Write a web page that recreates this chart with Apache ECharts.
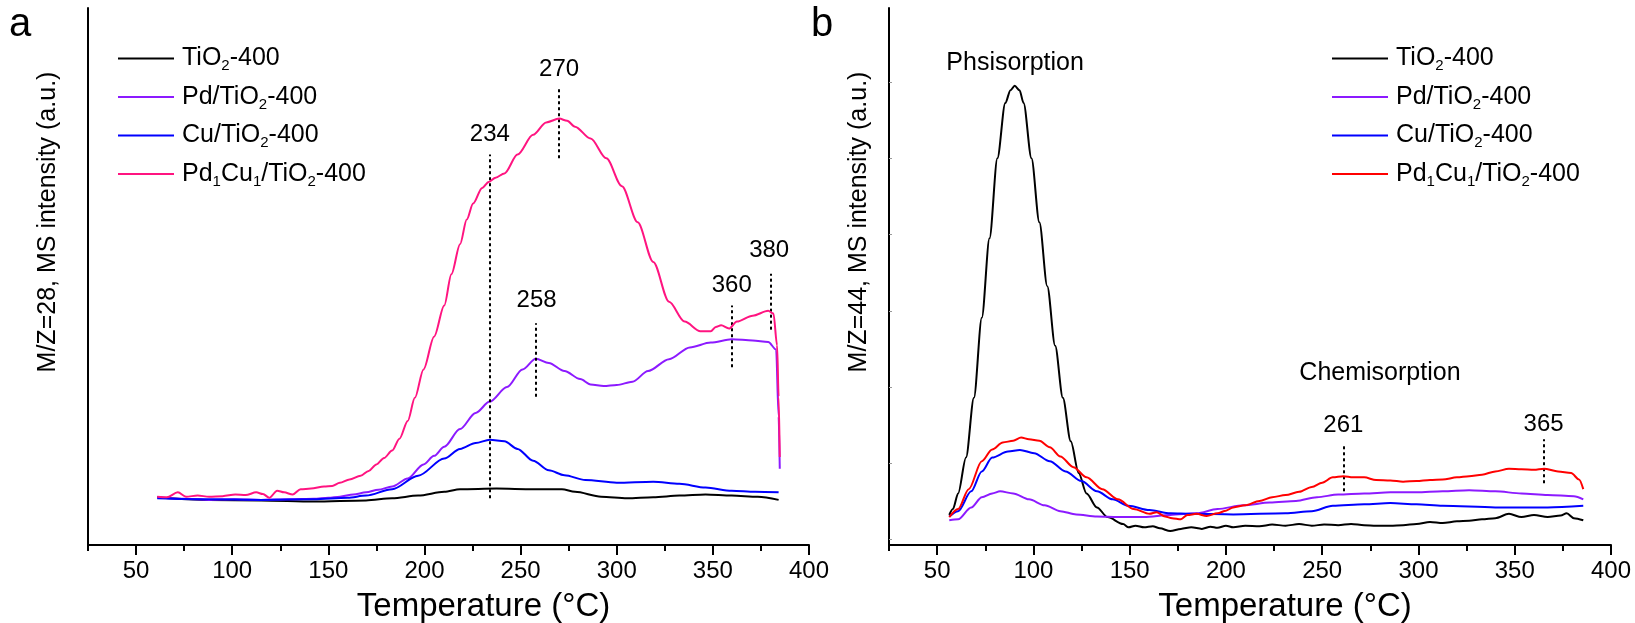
<!DOCTYPE html>
<html>
<head>
<meta charset="utf-8">
<script src="https://cdn.jsdelivr.net/npm/echarts@6/dist/echarts.min.js"></script>
<style>html,body{margin:0;padding:0;background:#fff;}#c{width:1635px;height:623px;}</style>
</head>
<body>
<div id="c"></div>
<script>
// ---------- data ----------
const seriesNames = ['TiO_2-400', 'Pd/TiO_2-400', 'Cu/TiO_2-400', 'Pd_1Cu_1/TiO_2-400'];
const majorTicks = [50, 100, 150, 200, 250, 300, 350, 400];
const minorTicks = [25, 75, 125, 175, 225, 275, 325, 375];
const rightYTicks = [1.0, 15.2, 29.4, 43.6, 57.8, 72.0, 86.2];

// Panel a (M/Z=28)
const aTiO2X = [61,88,115,142.4,169.6,183.2,196.7,210.3,218.5,237.5,256.5,271.5,278.3,291.9,305.4,319,332.6,346.2,359.8,373.4,384.2];
const aTiO2Y = [8.9,8.4,8.3,8.1,8.3,8.7,9.2,9.9,10.4,10.5,10.4,10.4,9.9,9.0,8.7,8.9,9.2,9.4,9.2,9.0,8.4];
const aPdX = [61,75,88,101,115,130,142.4,150,156,163,169.6,176,183.2,191.3,199.5,205,210.3,218.5,226.6,234,242.9,251,257.9,264.7,272.8,281,286.4,293.2,300,308.2,316.3,327.2,338,348.9,359.8,370.7,378.8,382.9,384.2,384.8];
const aPdY = [8.9,8.6,8.4,8.5,8.4,8.5,8.6,8.8,9.0,9.4,9.8,10.3,10.9,12.4,15.0,16.6,18.3,21.6,24.6,26.7,29.4,32.7,34.7,33.9,32.4,30.9,29.9,29.6,29.8,30.4,32.4,34.6,36.8,37.7,38.3,38.1,37.8,36.4,23.9,14.2];
const aCuX = [61,88,115,142.4,160,169.6,183.2,196.7,210.3,218.5,226.6,234,241.6,248.4,256.5,264.7,272.8,283.7,300,319,332.6,346.2,359.8,372,384.2];
const aCuY = [8.7,8.5,8.4,8.5,8.8,9.2,10.4,12.9,16.1,17.9,19.0,19.6,19.3,17.9,15.7,13.9,13.0,12.1,11.6,11.8,11.4,10.7,10.1,9.9,9.8];
const aPdCuX = [61,66,71.7,76,82,88,95,101.6,107,112.5,116,119.3,123.4,127,131.5,135.6,141,147.8,152,156,161,166.8,171,175,179,183.2,187,191.3,195,199.5,205,210.3,214,218.5,222,225.3,230,233.4,237,241.6,248.4,256.5,263.3,270.1,274.2,278.3,286.4,294.6,302.7,310.9,319,327.2,335.3,343.5,348.9,351.5,354.3,358.4,362.5,370.7,378.8,381.5,383.4,384.2,384.8];
const aPdCuY = [9.0,8.9,9.8,9.0,9.2,9.0,9.1,9.4,9.3,9.8,9.5,8.8,10.1,9.8,9.4,10.4,10.5,10.9,11.0,11.6,12.2,12.9,13.8,15.0,16.2,17.6,19.8,23.1,27.4,32.7,38.8,44.6,50.4,56.0,60.6,63.6,66.5,67.6,68.4,69.2,72.7,76.4,78.7,79.4,79.0,77.9,75.7,72.0,66.8,60.1,52.7,45.3,41.6,39.8,39.8,40.6,40.9,40.3,41.6,42.7,43.6,43.1,37.2,27.6,16.4];

// Panel a annotations
const aPeakX = [234, 270, 258, 360, 380];
const aPeakLow = [8.7, 72.0, 27.6, 33.1, 40.1];
const aPeakHigh = [72.7, 85.2, 41.3, 44.6, 50.5];
const aLabelX = [234, 270, 258.3, 359.8, 379.3];
const aLabelY = [76.5, 88.6, 45.5, 48.4, 54.8];

// Panel b (M/Z=44)
const bTiO2X = [56.3,58.2,60.9,65,69.1,73.2,77.2,81.3,85.4,88.1,90.3,92.8,94.9,99,103.1,107.2,111.3,115.3,119.4,123.5,127.6,133,138.5,146.6,149.4,153,157.5,162,165.7,171.1,176.6,182,187.5,192,195.6,200,203.8,210,217.4,224,231,238,244.6,251,258.3,265,271.8,278,285.4,292,299,306,312.6,320,326.3,333,339.9,347,353.5,360,367.1,373.9,377,380.7,385.6];
const bTiO2Y = [5.6,6.7,9.6,16.3,27.4,42.3,57.1,72.0,82.3,84.7,85.5,84.7,82.3,72.0,60.1,48.2,37.1,27.4,19.3,13.4,9.6,7.0,5.2,3.9,3.3,3.6,3.3,3.5,3.1,2.6,3.0,3.3,3.0,3.4,3.2,3.6,3.3,3.6,3.5,3.8,3.6,3.9,3.6,3.8,3.7,3.9,3.7,3.6,3.6,3.7,3.9,4.3,4.1,4.4,4.5,4.8,5.0,5.8,5.2,5.6,5.2,5.5,5.9,5.0,4.6];
const bPdX = [56.3,60.9,67.7,73.2,78.6,82.7,89.5,97.7,105.8,114,122.2,133,143.9,157.5,171.1,184.8,195.6,209.2,222.8,236.4,247.3,258.3,271.8,285.4,299,312.6,326.3,339.9,353.5,367.1,380.7,385.6];
const bPdY = [4.6,4.8,7.0,8.9,9.6,10.0,9.6,8.5,7.4,6.3,5.7,5.3,5.2,5.2,5.6,5.9,6.7,7.4,7.9,8.2,8.9,9.4,9.6,9.8,9.8,10.0,10.2,10.0,9.6,9.3,9.1,8.5];
const bCuX = [56.3,60.9,67.7,73.2,78.6,86.8,93,100.4,108.5,116.7,124.9,133,141.2,149.4,160.3,171.1,182,203.8,231,244.6,255.5,271.8,285.4,299,312.6,339.9,367.1,385.6];
const bCuY = [5.3,6.3,10.0,13.7,16.3,17.4,17.7,17.1,15.6,13.7,11.9,10.0,8.5,7.3,6.5,5.9,5.8,5.7,5.9,6.3,7.3,7.6,7.8,7.6,7.3,7.0,7.0,7.3];
const bPdCuX = [56.3,60.9,66.4,73.2,78.6,84.1,89.5,93.6,97.7,103.1,108.5,114,120.8,127.6,135.8,143.9,152.1,160.3,164,168.4,172,176.6,180,184.8,190,195.6,200,203.8,210,217.4,224,231,238,244.6,250,255.5,261,266,271.8,278,285.4,292,299,306,312.6,320,326.3,333,339.9,347,353.5,360,365.2,372.5,379.3,383.4,385.6];
const bPdCuY = [5.2,6.7,10.4,15.6,17.8,19.1,19.4,20.0,19.7,19.4,18.2,16.5,14.5,12.6,10.4,8.5,6.7,5.8,6.1,5.3,5.0,4.8,5.6,5.8,5.4,5.9,6.4,7.0,7.4,8.2,8.9,9.3,9.9,10.8,11.6,12.6,12.8,12.6,12.6,12.1,12.0,11.8,11.9,12.1,12.2,12.6,12.8,13.1,13.7,14.2,14.1,14.0,14.2,13.7,13.4,12.2,10.4];

// Panel b annotations
const bPeakX = [261, 365];
const bPeakLow = [10.0, 11.5];
const bPeakHigh = [18.9, 19.7];
const bLabelX = [261, 365];
const bLabelY = [22.3, 22.4];
const bTextNames = ['Phsisorption', 'Chemisorption'];
const bTextX = [90.5, 280];
const bTextY = [89.8, 32.0];

// ---------- chart ----------
const FONT = '"Liberation Sans", Arial, sans-serif';
const zip = (xs, ys) => xs.map((x, i) => [x, ys[i]]);
const colorsA = ['#000000', '#8c1aff', '#0000ff', '#ff1480'];
const colorsB = ['#000000', '#8c1aff', '#0000ff', '#ff0000'];
const dataA = [zip(aTiO2X, aTiO2Y), zip(aPdX, aPdY), zip(aCuX, aCuY), zip(aPdCuX, aPdCuY)];
const dataB = [zip(bTiO2X, bTiO2Y), zip(bPdX, bPdY), zip(bCuX, bCuY), zip(bPdCuX, bPdCuY)];

function fmt(name) {
  const t = name.slice(2);
  return '{m|' + t.replace(/_(\d)/g, '}{s|$1}{m|') + '}';
}
const legendRich = {
  m: { fontSize: 25, fontFamily: FONT, color: '#000', lineHeight: 30 },
  s: { fontSize: 15, fontFamily: FONT, color: '#000', lineHeight: 15, verticalAlign: 'bottom' }
};

function makeX(grid, main) {
  if (main) {
    return {
      gridIndex: grid, type: 'value', min: 25, max: 400, position: 'bottom',
      axisLine: { lineStyle: { color: '#000', width: 2 } },
      axisTick: { customValues: majorTicks, length: 10, lineStyle: { color: '#000', width: 2 } },
      axisLabel: { customValues: majorTicks, fontSize: 24, color: '#000', margin: 14, fontFamily: FONT },
      splitLine: { show: false },
      name: 'Temperature (°C)', nameLocation: 'middle', nameGap: 45,
      nameTextStyle: { fontSize: 33, color: '#000', fontFamily: FONT, padding: [0, 0, 0, 70] }
    };
  }
  return {
    gridIndex: grid, type: 'value', min: 25, max: 400, position: 'bottom', offset: 0,
    axisLine: { show: false },
    axisTick: { customValues: minorTicks, length: 6, lineStyle: { color: '#000', width: 2 } },
    axisLabel: { show: false }, splitLine: { show: false }
  };
}

function makeSeries(prefix, data, colors, xi, yi) {
  return data.map((d, i) => ({
    name: prefix + seriesNames[i], type: 'line', xAxisIndex: xi, yAxisIndex: yi,
    data: d, symbol: 'none', smooth: 0.3, smoothMonotone: 'x',
    lineStyle: { color: colors[i], width: 2 }, itemStyle: { color: colors[i] },
    z: 2 + i
  }));
}

const seriesA = makeSeries('a:', dataA, colorsA, 0, 0);
const seriesB = makeSeries('b:', dataB, colorsB, 2, 1);

const dashStyle = { color: '#000', width: 2, type: [3, 3] };
const annLabel = { show: true, position: 'inside', formatter: '{b}', fontSize: 24, color: '#000', fontFamily: FONT };

seriesA[0].markLine = {
  silent: true, symbol: ['none', 'none'], label: { show: false }, lineStyle: dashStyle,
  data: aPeakX.map((p, i) => [{ coord: [p, aPeakLow[i]] }, { coord: [p, aPeakHigh[i]] }])
};
seriesA[0].markPoint = {
  silent: true, symbol: 'circle', symbolSize: 0, label: annLabel,
  data: aPeakX.map((p, i) => ({ name: String(p), coord: [aLabelX[i], aLabelY[i]] }))
};
seriesB[0].markLine = {
  silent: true, symbol: ['none', 'none'], label: { show: false }, lineStyle: dashStyle,
  data: bPeakX.map((p, i) => [{ coord: [p, bPeakLow[i]] }, { coord: [p, bPeakHigh[i]] }])
};
seriesB[0].markPoint = {
  silent: true, symbol: 'circle', symbolSize: 0, label: annLabel,
  data: bPeakX.map((p, i) => ({ name: String(p), coord: [bLabelX[i], bLabelY[i]] }))
    .concat(bTextNames.map((t, i) => ({ name: t, coord: [bTextX[i], bTextY[i]], label: { fontSize: 25 } })))
};

function makeLegend(prefix, left) {
  return {
    data: seriesNames.map(n => ({ name: prefix + n, icon: 'rect' })),
    orient: 'vertical', left: left, top: 46, padding: 0,
    itemWidth: 56, itemHeight: 2, itemGap: 11, formatter: fmt, selectedMode: false,
    textStyle: { padding: [0, 0, 0, 3], rich: legendRich }
  };
}

const chart = echarts.init(document.getElementById('c'), null, { renderer: 'canvas' });
chart.setOption({
  animation: false,
  backgroundColor: '#fff',
  grid: [
    { left: 88, right: 826, top: 8, bottom: 78, outerBoundsMode: 'none', containLabel: false },
    { left: 889, right: 24, top: 8, bottom: 78, outerBoundsMode: 'none', containLabel: false }
  ],
  xAxis: [makeX(0, true), makeX(0, false), makeX(1, true), makeX(1, false)],
  yAxis: [
    { gridIndex: 0, type: 'value', min: 0, max: 100,
      axisLine: { show: true, lineStyle: { color: '#000', width: 2 } },
      axisTick: { show: false }, axisLabel: { show: false }, splitLine: { show: false } },
    { gridIndex: 1, type: 'value', min: 0, max: 100,
      axisLine: { show: true, lineStyle: { color: '#000', width: 2 } },
      axisTick: { show: true, inside: true, customValues: rightYTicks, length: 3, lineStyle: { color: '#999', width: 1 } },
      axisLabel: { show: false }, splitLine: { show: false } }
  ],
  legend: [makeLegend('a:', 118), makeLegend('b:', 1332)],
  graphic: [
    { type: 'text', x: 9, y: 25, style: { text: 'a', fontSize: 40, fontFamily: FONT, fill: '#000', textVerticalAlign: 'middle' } },
    { type: 'text', x: 811, y: 25, style: { text: 'b', fontSize: 40, fontFamily: FONT, fill: '#000', textVerticalAlign: 'middle' } },
    { type: 'text', x: 48, y: 222, rotation: Math.PI / 2,
      style: { text: 'M/Z=28, MS intensity (a.u.)', fontSize: 25, fontFamily: FONT, fill: '#000', textAlign: 'center', textVerticalAlign: 'middle' } },
    { type: 'text', x: 859, y: 222, rotation: Math.PI / 2,
      style: { text: 'M/Z=44, MS intensity (a.u.)', fontSize: 25, fontFamily: FONT, fill: '#000', textAlign: 'center', textVerticalAlign: 'middle' } }
  ],
  series: seriesA.concat(seriesB)
});
</script>
</body>
</html>
